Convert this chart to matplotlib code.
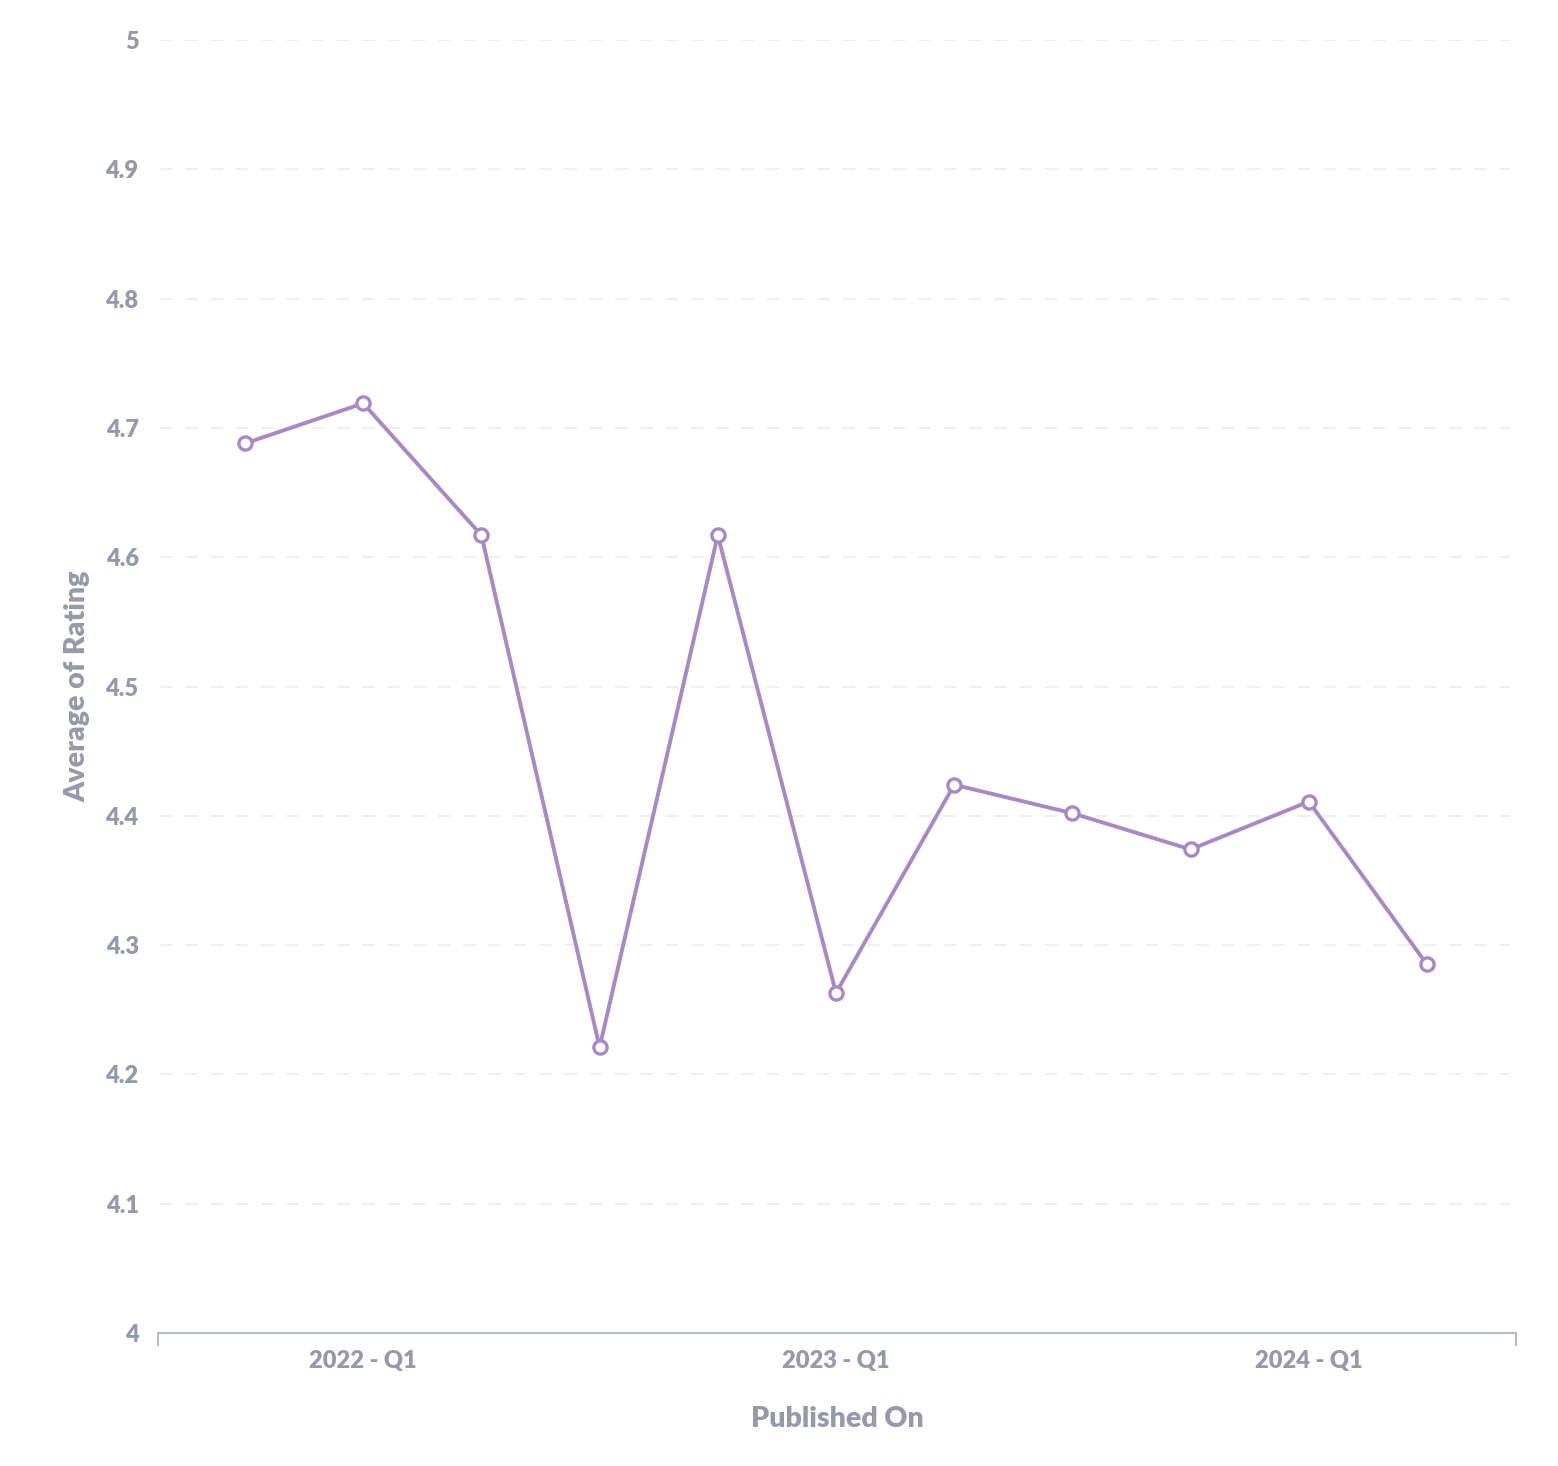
import matplotlib
matplotlib.use("Agg")
import matplotlib.pyplot as plt

quarters = ["2021 - Q4", "2022 - Q1", "2022 - Q2", "2022 - Q3", "2022 - Q4",
            "2023 - Q1", "2023 - Q2", "2023 - Q3", "2023 - Q4", "2024 - Q1", "2024 - Q2"]
ratings = [4.688, 4.719, 4.617, 4.221, 4.617, 4.263, 4.424, 4.402, 4.374, 4.411, 4.285]
labelled = ["2022 - Q1", "2023 - Q1", "2024 - Q1"]
y_ticks = [4.0, 4.1, 4.2, 4.3, 4.4, 4.5, 4.6, 4.7, 4.8, 4.9, 5.0]
y_tick_labels = ["4", "4.1", "4.2", "4.3", "4.4", "4.5", "4.6", "4.7", "4.8", "4.9", "5"]

text_color = "#949AAB"
line_color = "#A989C5"
axis_color = "#B8BBC3"
grid_color = "#EDEEF0"

plt.rcParams['font.family'] = ['Lato', 'DejaVu Sans']
plt.rcParams['font.weight'] = 'heavy'

fig = plt.figure(figsize=(15.58, 14.66), dpi=100)
ax = fig.add_axes([158/1558, 1 - 1333/1466, (1516-158)/1558, (1333-40)/1466])

x = list(range(len(quarters)))
ax.plot(x, ratings, color=line_color, linewidth=2.8, marker='o', markersize=9.5,
        markerfacecolor='white', markeredgecolor=line_color, markeredgewidth=2.4, zorder=3)

ax.set_xlim(-0.736, 10.753)
ax.set_ylim(4.0, 5.0)

ax.set_yticks(y_ticks)
ax.set_yticklabels(y_tick_labels, fontweight='heavy')
tick_pos = [quarters.index(q) for q in labelled]
ax.set_xticks(tick_pos)
ax.set_xticklabels(labelled, fontweight='heavy')
ax.set_xticks([-0.736, 10.753], minor=True)

ax.tick_params(axis='y', length=0, pad=14, labelsize=17, labelcolor=text_color)
ax.tick_params(axis='x', which='major', length=0, pad=12, labelsize=17, labelcolor=text_color)
ax.tick_params(axis='x', which='minor', length=9, width=1.5, color=axis_color)

for yv in y_ticks[1:]:
    ax.plot([-0.72, 10.70], [yv, yv], color=grid_color, linewidth=1.3,
            dashes=(7, 7), zorder=1)

for s in ['top', 'right', 'left']:
    ax.spines[s].set_visible(False)
ax.spines['bottom'].set_color(axis_color)
ax.spines['bottom'].set_linewidth(1.5)

ax.set_xlabel("Published On", fontsize=20.5, color=text_color, fontweight='heavy', labelpad=25)
ax.set_ylabel("Average of Rating", fontsize=20.5, color=text_color, fontweight='heavy', labelpad=11)

fig.savefig("out.png", dpi=100, facecolor='white')
